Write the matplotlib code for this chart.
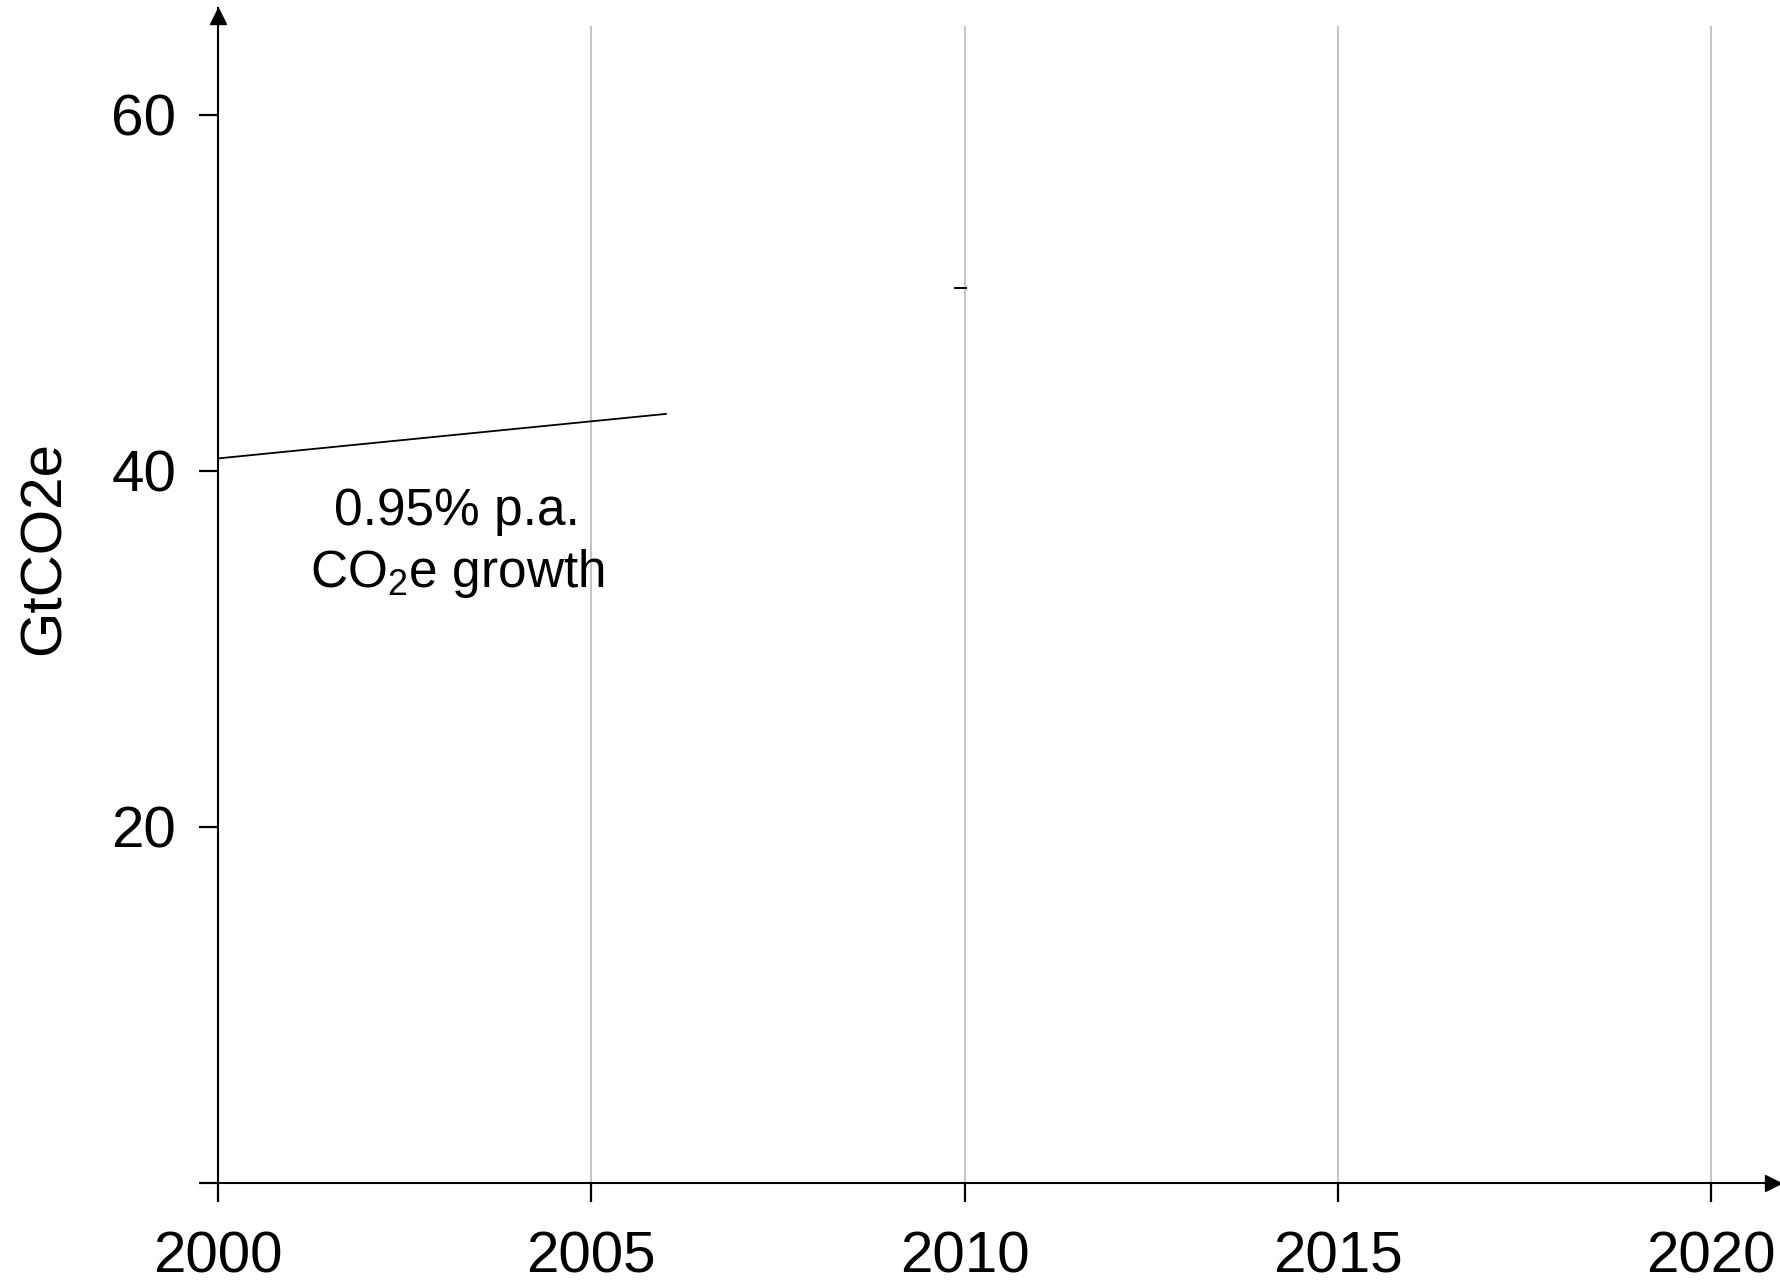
import matplotlib
matplotlib.use("Agg")
import matplotlib.pyplot as plt

plt.rcParams['font.family'] = ['Liberation Sans', 'DejaVu Sans']
plt.rcParams['mathtext.fontset'] = 'custom'
plt.rcParams['mathtext.rm'] = 'Liberation Sans'
plt.rcParams['mathtext.it'] = 'Liberation Sans'

# Data
trend_years = [2000, 2006]
trend_values = [40.7, 43.2]
marker_years = [2009.87, 2010.02]
marker_values = [50.26, 50.26]
x_ticks = [2000, 2005, 2010, 2015, 2020]
x_labels = ['2000', '2005', '2010', '2015', '2020']
y_ticks = [0, 20, 40, 60]
y_labels = ['', '20', '40', '60']
annot_line1 = '0.95% p.a.'
annot_line2 = 'CO$_2$e growth'
y_title = 'GtCO2e'

W, H = 1781, 1281
fig = plt.figure(figsize=(W / 100, H / 100), dpi=100)
left, right, bottom, top = 218, 1780, 1183, 8
ax = fig.add_axes([left / W, 1 - bottom / H, (right - left) / W, (bottom - top) / H])

ax.set_xlim(2000, 2000 + (right - left) / 74.65)
ax.set_ylim(0, 66)

# gridlines
ax.vlines(x_ticks[1:], 0, 65.0, color='#c4c4c4', lw=1.4, zorder=1)

ax.plot(trend_years, trend_values, color='black', lw=1.3, zorder=3)
ax.plot(marker_years, marker_values, color='black', lw=1.4, zorder=3)

ax.text(2003.2, 36.97, annot_line1, fontsize=37, ha='center', va='baseline')
ax.text(2003.2, 33.45, annot_line2, fontsize=37, ha='center', va='baseline')

for s in ['top', 'right']:
    ax.spines[s].set_visible(False)
for s in ['left', 'bottom']:
    ax.spines[s].set_linewidth(1.5)
    ax.spines[s].set_color('black')

ax.set_xticks(x_ticks)
ax.set_xticklabels(x_labels)
ax.set_yticks(y_ticks)
ax.set_yticklabels(y_labels)
ax.tick_params(axis='x', direction='out', length=14, width=1.6, labelsize=42, pad=20)
ax.tick_params(axis='y', direction='out', length=14, width=1.6, labelsize=42, pad=16)

ax.set_ylabel(y_title, fontsize=42)
ax.yaxis.set_label_coords(-(left - 72) / (right - left), 1 - (548 - top) / (bottom - top))

# axis arrows
ax.plot([0], [1 - 8 / (bottom - top)], marker='^', markersize=11.5, color='black',
        transform=ax.transAxes, clip_on=False)
ax.plot([1 - 7 / (right - left)], [0], marker='>', markersize=11, color='black',
        transform=ax.transAxes, clip_on=False)

fig.savefig('out.png', dpi=100)
